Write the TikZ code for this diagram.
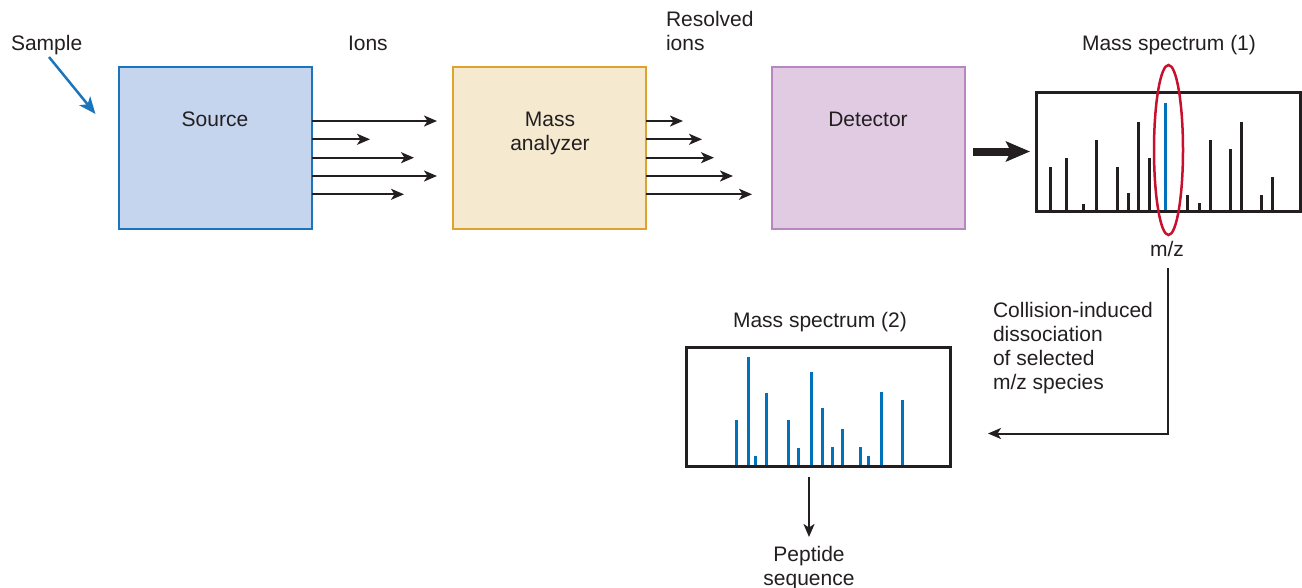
\documentclass[tikz,border=0pt]{standalone}
\usepackage{fontspec}
\setmainfont{Liberation Sans}
\usetikzlibrary{arrows.meta}
\definecolor{txt}{HTML}{231F20}
\definecolor{srcfill}{HTML}{C5D5EE}
\definecolor{srcline}{HTML}{1B75BC}
\definecolor{mafill}{HTML}{F5E9CF}
\definecolor{maline}{HTML}{E0A22E}
\definecolor{detfill}{HTML}{E1CBE3}
\definecolor{detline}{HTML}{B886C0}
\definecolor{selred}{HTML}{C8102E}
\definecolor{peakblue}{HTML}{0072BC}
\begin{document}
\begin{tikzpicture}[x=1pt,y=-1pt,
  every node/.style={inner sep=0pt, outer sep=0pt, text=txt},
  lbl/.style={font=\fontsize{21}{24}\selectfont},
  stagebox/.style={draw, line width=2pt, minimum width=193pt, minimum height=162pt},
  specbox/.style={draw=txt, line width=3pt, minimum width=264pt, minimum height=119pt},
  ionarrow/.style={draw=txt, line width=2pt, -{Stealth[length=13pt,width=11pt,inset=3.5pt]}},
  conarrow/.style={draw=txt, line width=2pt, -{Stealth[length=13pt,width=11pt,inset=3.5pt]}},
  blackbar/.style={draw=txt, line width=3pt},
  bluebar/.style={draw=peakblue, line width=3pt},
]
\useasboundingbox (0,0) rectangle (1302,587);

% stages
\node[stagebox, draw=srcline, fill=srcfill] (source) at (215.5,148) {};
\node[stagebox, draw=maline, fill=mafill] (analyzer) at (549.5,148) {};
\node[stagebox, draw=detline, fill=detfill] (detector) at (868.5,148) {};
\node[lbl, anchor=base] (sourcetxt) at (215,126.5) {Source};
\node[lbl, anchor=base, align=center] (analyzertxt) at (550,150.5) {Mass\\analyzer};
\node[lbl, anchor=base] (detectortxt) at (868,126.5) {Detector};

% top labels
\node[lbl, anchor=base west] (sample) at (11,50) {Sample};
\node[lbl, anchor=base west] (ions) at (348,50) {Ions};
\node[lbl, anchor=base west, align=left] (resolved) at (666,50) {Resolved\\ions};
\node[lbl, anchor=base] (ms1) at (1169,50) {Mass spectrum (1)};

% sample arrow
\coordinate (samplefrom) at (49,57);
\coordinate (sampleto) at (95.5,114);
\draw[draw=srcline, line width=2.5pt, -{Stealth[length=17pt,width=14pt,inset=4.5pt]}] (samplefrom) -- (sampleto);

% ion arrows
\foreach \y/\e in {121/437, 139.3/370, 157.7/414, 176/437, 194.3/404}
  \draw[ionarrow] (source.east |- {(0,\y)}) -- (\e,\y);
\foreach \y/\e in {121/683, 139.3/702, 157.7/714, 176/733, 194.3/752}
  \draw[ionarrow] (analyzer.east |- {(0,\y)}) -- (\e,\y);

% thick arrow to spectrum
\coordinate (thickfrom) at (973,151.5);
\coordinate (thickto) at (1030,151.5);
\draw[draw=txt, line width=8pt, -{Stealth[length=24pt,width=20pt,inset=5pt]}] (thickfrom) -- (thickto);

% spectrum 1
\node[specbox] (spec1) at (1168.5,151.5) {};
\foreach \x/\t in {1050.7/167.3, 1066/157.7, 1083.3/204.3, 1096.7/140, 1117.3/167.3,
  1128/193.3, 1138.3/122, 1149.3/158, 1187.3/194.7, 1199/203.3, 1210/139.7,
  1230.7/149.3, 1241/122, 1261.7/194.7, 1272.7/176.7}
  \draw[blackbar] (\x,211) -- (\x,\t);
\draw[bluebar] (1165.3,211) -- (1165.3,102.7);
\draw[draw=txt, line width=3pt] (spec1.south west) -- (spec1.south east);
\draw[draw=selred, line width=2.5pt] (1168.5,150) ellipse [x radius=14.5pt, y radius=85pt];
\node[lbl, anchor=base] (mz) at (1167,256.7) {m/z};

% CID connector
\coordinate (cidtop) at (1168,268);
\coordinate (cidcorner) at (1168,433.5);
\coordinate (cidend) at (988,433.5);
\draw[conarrow] (cidtop) -- (cidcorner) -- (cidend);
\node[lbl, anchor=base west, align=left] (cid) at (993,389.3) {Collision-induced\\dissociation\\of selected\\m/z species};

% spectrum 2
\node[lbl, anchor=base] (ms2) at (820,327) {Mass spectrum (2)};
\node[specbox] (spec2) at (818,407) {};
\foreach \x/\t in {736/420, 748.7/357.3, 755.3/456, 766.7/393.3, 788.7/420, 798.7/448,
  811.3/372, 822.3/408, 832.7/447.3, 842.7/428.7, 860/447.3, 868.7/456, 881.3/392, 902/400}
  \draw[bluebar] (\x,466.5) -- (\x,\t);
\draw[draw=txt, line width=3pt] (spec2.south west) -- (spec2.south east);

% peptide
\coordinate (pepfrom) at (809,476.7);
\coordinate (pepto) at (809,537);
\draw[conarrow] (pepfrom) -- (pepto);
\node[lbl, anchor=base, align=center] (peptide) at (809,585.7) {Peptide\\sequence};
\end{tikzpicture}
\end{document}
